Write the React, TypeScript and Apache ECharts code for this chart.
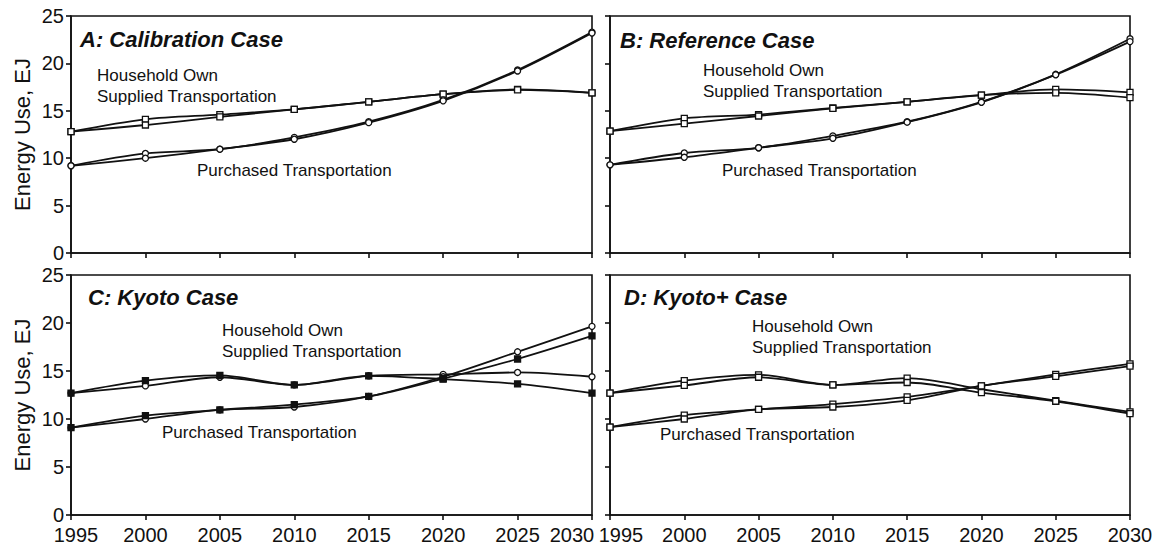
import React, { useEffect, useRef } from "react";
import * as echarts from "echarts";

const years = ["1995", "2000", "2005", "2010", "2015", "2020", "2025", "2030"];
const yTicks = [0, 5, 10, 15, 20, 25];

const panelTitles = ["A: Calibration Case", "B: Reference Case", "C: Kyoto Case", "D: Kyoto+ Case"];
const householdLabel = ["Household Own", "Supplied Transportation"];
const purchasedLabel = "Purchased Transportation";
const yTitle = "Energy Use, EJ";

// Panel A
const hhA1 = [12.8, 14.1, 14.6, 15.15, 15.95, 16.75, 17.25, 16.9];
const hhA2 = [12.8, 13.5, 14.35, 15.15, 15.95, 16.75, 17.2, 16.9];
const ptA1 = [9.2, 10.5, 10.95, 12.2, 13.85, 16.15, 19.3, 23.3];
const ptA2 = [9.2, 10.0, 10.95, 12.0, 13.75, 16.05, 19.2, 23.2];
// Panel B
const hhB1 = [12.85, 14.2, 14.6, 15.3, 15.95, 16.65, 17.25, 16.95];
const hhB2 = [12.85, 13.65, 14.45, 15.25, 15.95, 16.65, 16.9, 16.4];
const ptB1 = [9.3, 10.55, 11.1, 12.35, 13.85, 15.95, 18.85, 22.6];
const ptB2 = [9.3, 10.1, 11.1, 12.1, 13.8, 15.9, 18.8, 22.3];
// Panel C
const hhC1 = [12.7, 13.45, 14.35, 13.55, 14.5, 14.65, 14.85, 14.4];
const hhC2 = [12.7, 14.0, 14.55, 13.55, 14.5, 14.15, 13.65, 12.7];
const ptC1 = [9.1, 10.0, 10.95, 11.25, 12.35, 14.4, 17.0, 19.65];
const ptC2 = [9.1, 10.35, 10.95, 11.5, 12.35, 14.2, 16.25, 18.65];
// Panel D
const hhD1 = [12.7, 14.0, 14.6, 13.55, 14.25, 13.1, 11.9, 10.75];
const hhD2 = [12.7, 13.5, 14.35, 13.55, 13.8, 12.75, 11.85, 10.55];
const ptD1 = [9.15, 10.4, 11.0, 11.55, 12.3, 13.45, 14.65, 15.75];
const ptD2 = [9.15, 10.0, 11.0, 11.25, 11.95, 13.45, 14.45, 15.5];

const FONT = "'Liberation Sans', Arial, Helvetica, sans-serif";
const INK = "#111";

export default function App() {
  const ref = useRef<HTMLDivElement>(null);

  useEffect(() => {
    document.body.style.margin = "0";
    const chart = echarts.init(ref.current!, null, { renderer: "svg" });

    const grids = [
      { left: 71, top: 16, width: 521, height: 237 },
      { left: 610, top: 16, width: 520, height: 237 },
      { left: 71, top: 275, width: 521, height: 240 },
      { left: 610, top: 275, width: 520, height: 240 },
    ].map((g) => ({ ...g, show: true, borderColor: INK, borderWidth: 1.6, backgroundColor: "transparent" }));

    const labelRich = {
      n: { fontSize: 20, fontFamily: FONT, color: INK },
      f: { fontSize: 20, fontFamily: FONT, color: INK, padding: [0, 0, 0, 10] },
      l: { fontSize: 20, fontFamily: FONT, color: INK, padding: [0, 40, 0, 0] },
      r: { fontSize: 20, fontFamily: FONT, color: INK, padding: [0, 0, 0, 22] },
    };

    const xAxis = grids.map((_, i) => ({
      type: "category",
      gridIndex: i,
      data: years,
      boundaryGap: false,
      axisLine: { lineStyle: { color: INK, width: 1.6 } },
      axisTick: { show: true, inside: false, length: 5, interval: 0, lineStyle: { color: INK, width: 1.6 } },
      axisLabel: {
        show: i >= 2,
        interval: 0,
        hideOverlap: false,
        color: INK,
        fontSize: 20,
        fontFamily: FONT,
        margin: 10,
        rich: labelRich,
        formatter: (v: string, idx: number) => {
          if (i === 2 && idx === 0) return `{f|${v}}`;
          if (i === 2 && idx === years.length - 1) return `{l|${v}}`;
          if (i === 3 && idx === 0) return `{r|${v}}`;
          return `{n|${v}}`;
        },
      },
      splitLine: { show: false },
    }));

    const yAxis = grids.map((_, i) => ({
      type: "value",
      gridIndex: i,
      min: yTicks[0],
      max: yTicks[yTicks.length - 1],
      interval: 5,
      name: i % 2 === 0 ? yTitle : "",
      nameLocation: "middle",
      nameRotate: 90,
      nameGap: 38,
      nameTextStyle: { color: INK, fontSize: 22, fontFamily: FONT },
      axisLine: { show: true, lineStyle: { color: INK, width: 1.6 } },
      axisTick: { show: true, inside: false, length: 5, lineStyle: { color: INK, width: 1.6 } },
      axisLabel: { show: i % 2 === 0, color: INK, fontSize: 20, fontFamily: FONT, margin: 7 },
      splitLine: { show: false },
    }));

    const mk = (data: number[], idx: number, symbol: string, filled = false) => ({
      type: "line",
      xAxisIndex: idx,
      yAxisIndex: idx,
      data,
      smooth: 0.3,
      symbol,
      symbolSize: 6,
      showSymbol: true,
      lineStyle: { color: INK, width: 1.8 },
      itemStyle: { color: filled ? INK : "#fff", borderColor: INK, borderWidth: 1.3 },
      z: 3,
    });

    const series = [
      mk(hhA1, 0, "rect"), mk(hhA2, 0, "rect"), mk(ptA1, 0, "circle"), mk(ptA2, 0, "circle"),
      mk(hhB1, 1, "rect"), mk(hhB2, 1, "rect"), mk(ptB1, 1, "circle"), mk(ptB2, 1, "circle"),
      mk(hhC1, 2, "circle"), mk(hhC2, 2, "rect", true), mk(ptC1, 2, "circle"), mk(ptC2, 2, "rect", true),
      mk(hhD1, 3, "rect"), mk(hhD2, 3, "rect"), mk(ptD1, 3, "rect"), mk(ptD2, 3, "rect"),
    ];

    const titlePos = [[80, 39], [620, 40], [88, 297], [624, 297]];
    const hhPos = [[97, 75], [703, 70], [222, 330], [752, 326]];
    const ptPos = [[197, 170], [722, 170], [162, 432], [660, 434]];

    const graphic: any[] = [];
    panelTitles.forEach((t, i) => {
      graphic.push({
        type: "text", x: titlePos[i][0], y: titlePos[i][1], z: 10,
        style: { text: t, fill: INK, fontSize: 22, fontWeight: "bold", fontStyle: "italic", fontFamily: FONT, verticalAlign: "middle" },
      });
      householdLabel.forEach((line, k) => {
        graphic.push({
          type: "text", x: hhPos[i][0], y: hhPos[i][1] + k * 21, z: 10,
          style: { text: line, fill: INK, fontSize: 17, fontFamily: FONT, verticalAlign: "middle" },
        });
      });
      graphic.push({
        type: "text", x: ptPos[i][0], y: ptPos[i][1], z: 10,
        style: { text: purchasedLabel, fill: INK, fontSize: 17, fontFamily: FONT, verticalAlign: "middle" },
      });
    });

    chart.setOption({
      animation: false,
      backgroundColor: "#fff",
      grid: grids,
      xAxis,
      yAxis,
      series,
      graphic,
    });

    return () => chart.dispose();
  }, []);

  return <div ref={ref} style={{ width: 1163, height: 548 }} />;
}
